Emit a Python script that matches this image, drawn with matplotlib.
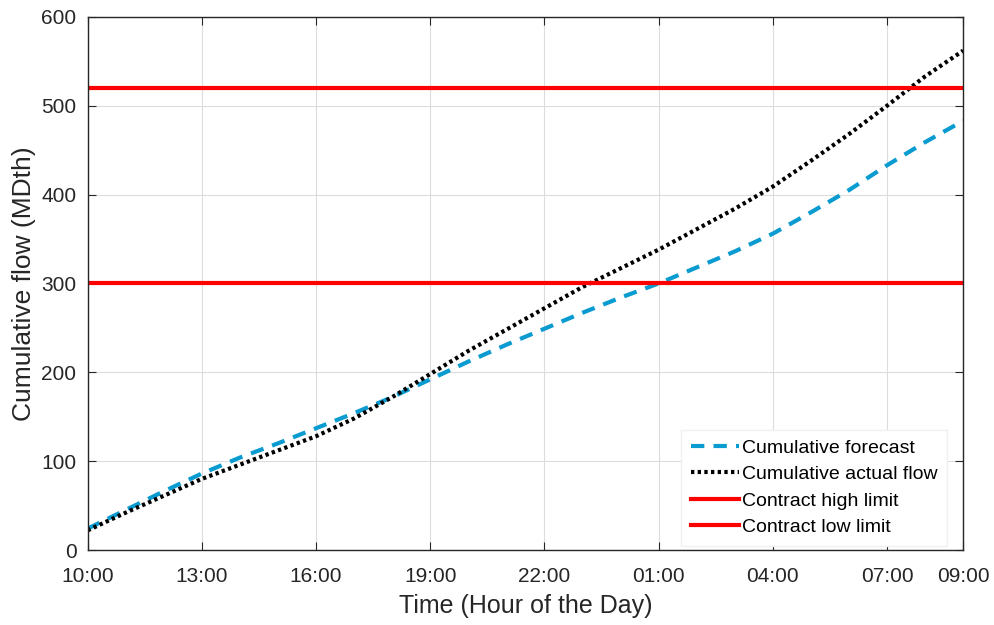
import matplotlib.pyplot as plt

plt.rcParams['font.family'] = ['Liberation Sans', 'DejaVu Sans']

# Horas transcurridas desde las 10:00
hours = list(range(24))
tick_pos = [0, 3, 6, 9, 12, 15, 18, 21, 23]
tick_labels = ["10:00", "13:00", "16:00", "19:00", "22:00",
               "01:00", "04:00", "07:00", "09:00"]

forecast = [24, 45, 66, 86, 104, 120, 137, 154, 172, 192, 212, 231,
            249, 267, 284, 300, 318, 336, 356, 380, 405, 433, 459, 483]
actual = [22, 42, 61, 80, 96, 112, 128, 148, 172, 198, 224, 248,
          272, 296, 317, 338, 361, 384, 409, 438, 468, 500, 533, 562]

high_limit = 520
low_limit = 300

fig, ax = plt.subplots(figsize=(9.95, 6.25), dpi=100)
fig.subplots_adjust(left=0.088, right=0.968, top=0.973, bottom=0.12)

ax.plot(hours, forecast, color="#0a9bd0", linestyle=(0, (3.2, 2.2)),
        linewidth=3, label="Cumulative forecast")
ax.plot(hours, actual, color="black", linestyle=(0, (0.8, 0.8)),
        linewidth=3, label="Cumulative actual flow")
ax.axhline(high_limit, color="#ff0000", linewidth=3, label="Contract high limit")
ax.axhline(low_limit, color="#ff0000", linewidth=3, label="Contract low limit")

ax.set_xlim(0, 23)
ax.set_ylim(0, 600)
ax.set_xticks(tick_pos)
ax.set_xticklabels(tick_labels)
ax.set_yticks(range(0, 601, 100))
ax.tick_params(direction="in", labelsize=15, length=6, colors="#262626",
               top=True, right=True)
ax.tick_params(axis="x", pad=12)
ax.tick_params(axis="y", pad=8)
ax.grid(True, color="#dcdcdc", linewidth=0.8)
for s in ax.spines.values():
    s.set_color("#262626")
    s.set_linewidth(1.0)

ax.set_xlabel("Time (Hour of the Day)", fontsize=18, color="#262626", labelpad=6)
ax.set_ylabel("Cumulative flow (MDth)", fontsize=19, color="#262626", labelpad=4)

leg = ax.legend(loc="lower right", bbox_to_anchor=(0.982, 0.008), fontsize=14,
                fancybox=False, framealpha=1, edgecolor="#f0f0f0",
                handlelength=2.5, handletextpad=0.15, labelspacing=0.45,
                borderaxespad=0, borderpad=0.5)

plt.savefig("out.png")
